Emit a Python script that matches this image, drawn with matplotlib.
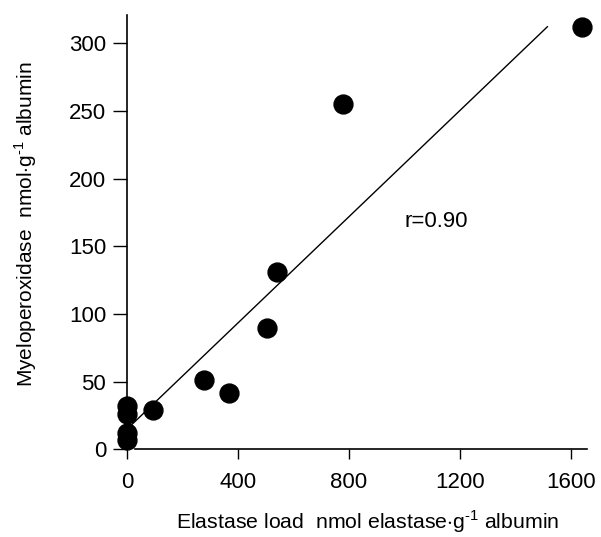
import matplotlib.pyplot as plt

plt.rcParams["font.family"] = ["Liberation Sans", "DejaVu Sans"]
plt.rcParams["mathtext.fontset"] = "custom"
plt.rcParams["mathtext.rm"] = "Liberation Sans"

# data
elastase = [1640, 778, 540, 505, 277, 368, 94, 0, 0, 0, 0]
mpo = [312, 255, 131, 90, 51, 42, 29, 32, 26, 12, 7]

fit_x = [0, 1515]
fit_y = [15, 312]

x_ticks = [0, 400, 800, 1200, 1600]
y_ticks = [0, 50, 100, 150, 200, 250, 300]

fig = plt.figure(figsize=(6.01, 5.37), dpi=100)
ax = fig.add_axes([0.1836, 0.1251, 0.8126, 0.8705])

ax.plot(fit_x, fit_y, color="black", lw=1.0, zorder=2)
ax.scatter(elastase, mpo, s=185, color="black", zorder=3, clip_on=False)

ax.set_xlim(-60, 1700)
ax.set_ylim(-15, 330)

for side in ("top", "right"):
    ax.spines[side].set_visible(False)
ax.spines["left"].set_position(("data", 0))
ax.spines["bottom"].set_position(("data", 0))
ax.spines["left"].set_bounds(0, 321)
ax.spines["bottom"].set_bounds(28, 1658)
ax.spines["left"].set_linewidth(1.2)
ax.spines["bottom"].set_linewidth(1.2)

ax.set_xticks(x_ticks)
ax.set_yticks(y_ticks)
ax.tick_params(axis="both", labelsize=16, width=1.0)
ax.tick_params(axis="y", length=10, pad=5)
ax.tick_params(axis="x", length=7, pad=9)

ax.text(1000, 168, "r=0.90", fontsize=16, ha="left", va="center")

fig.text(0.611, 0.028, r"Elastase load  nmol elastase$\cdot$g$^{\text{-1}}$ albumin",
         fontsize=15.3, ha="center", va="center")
fig.text(0.042, 0.583, r"Myeloperoxidase  nmol$\cdot$g$^{\text{-1}}$ albumin",
         fontsize=15, ha="center", va="center", rotation=90)

fig.savefig("out.png", dpi=100)
